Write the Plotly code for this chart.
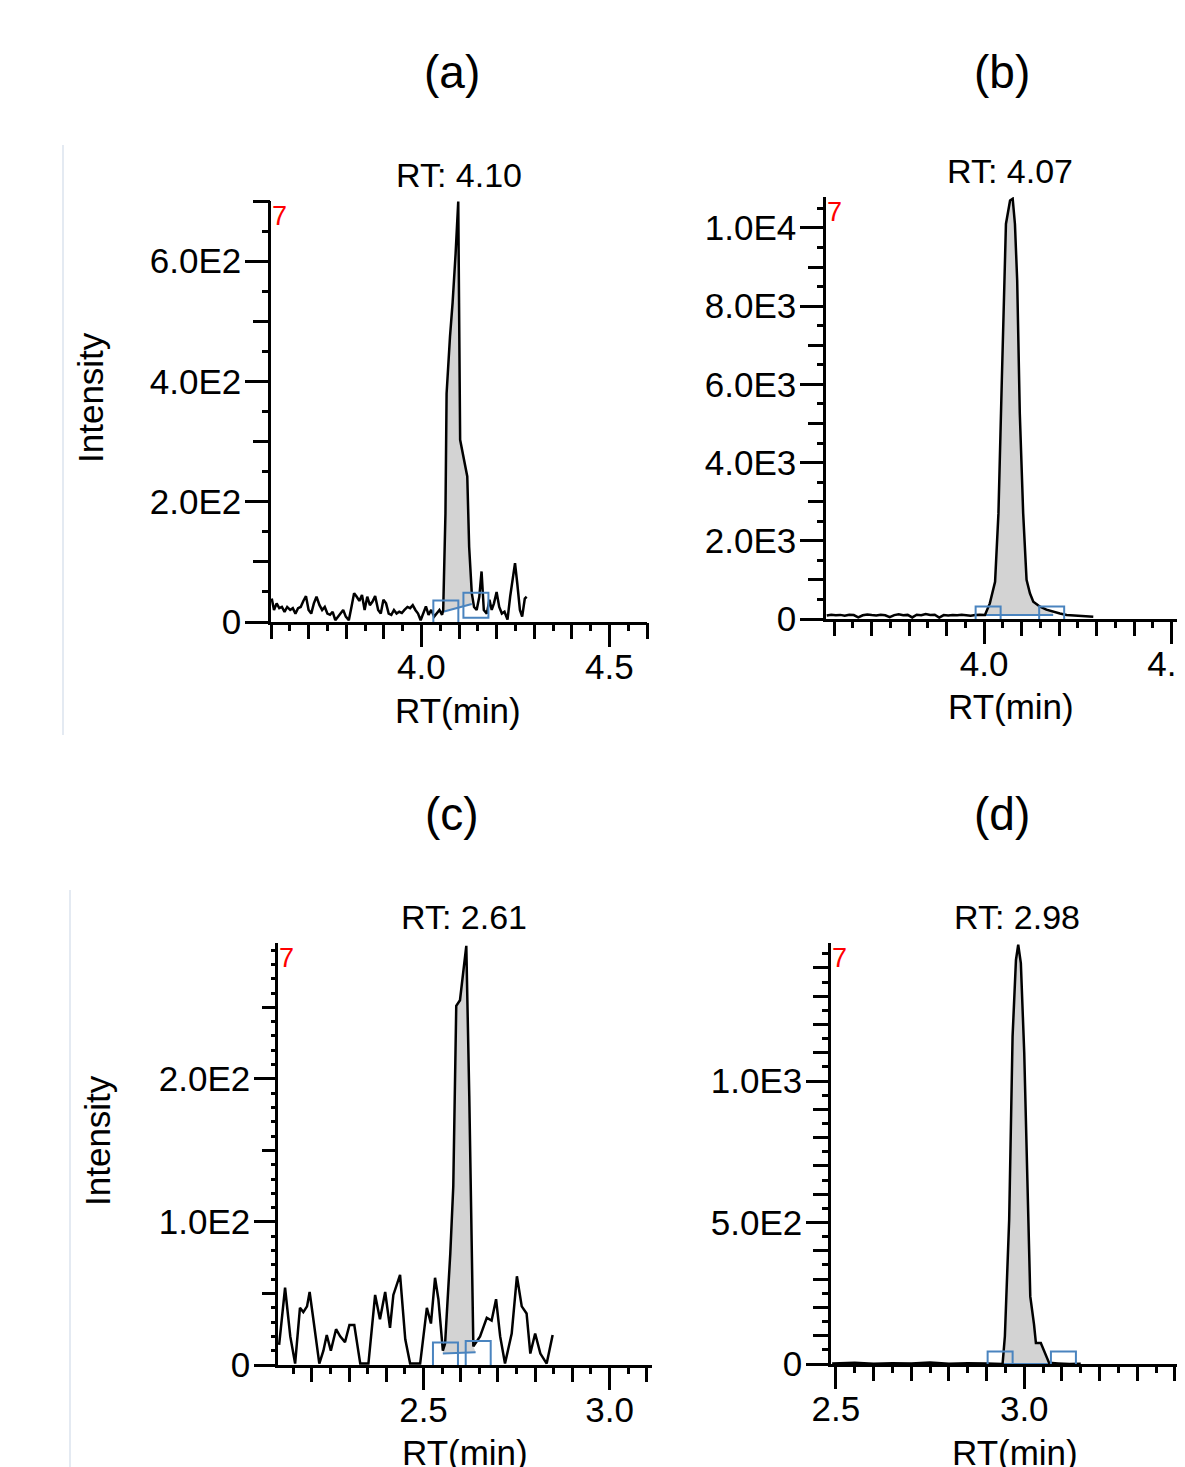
import plotly.graph_objects as go

# ---------------- data ----------------
panel_titles = ["(a)", "(b)", "(c)", "(d)"]
rt_labels = [4.10, 4.07, 2.61, 2.98]
x_title = "RT(min)"
y_title = "Intensity"

# (a)
a_time = [3.602, 3.608, 3.615, 3.622, 3.629, 3.636, 3.643, 3.651, 3.658, 3.665, 3.672, 3.679,
          3.686, 3.693, 3.700, 3.707, 3.714, 3.721, 3.729, 3.736, 3.743, 3.750, 3.757, 3.764,
          3.771, 3.778, 3.785, 3.792, 3.799, 3.807, 3.814, 3.821, 3.828, 3.835, 3.842, 3.849,
          3.856, 3.863, 3.870, 3.877, 3.885, 3.892, 3.899, 3.906, 3.913, 3.920, 3.927, 3.934,
          3.941, 3.948, 3.955, 3.963, 3.970, 3.977, 3.984, 3.991, 3.998, 4.005, 4.012, 4.019,
          4.026, 4.034, 4.041, 4.048, 4.055, 4.058, 4.064, 4.067, 4.076, 4.083, 4.091, 4.098,
          4.103, 4.112, 4.122, 4.127, 4.134, 4.140, 4.147, 4.154, 4.160, 4.166, 4.174, 4.181,
          4.187, 4.193, 4.200, 4.207, 4.214, 4.221, 4.229, 4.236, 4.243, 4.249, 4.255, 4.262,
          4.268, 4.275, 4.280]
a_intensity = [39, 20, 31, 23, 25, 17, 25, 20, 23, 14, 23, 25,
               35, 43, 20, 14, 31, 42, 28, 20, 25, 14, 12, 17,
               3, 9, 14, 20, 9, 3, 25, 48, 42, 35, 45, 20,
               42, 28, 34, 43, 20, 14, 37, 31, 14, 12, 20, 14,
               17, 15, 20, 25, 23, 28, 20, 14, 3, 14, 26, 12,
               20, 9, 14, 20, 12, 20, 181, 380, 474, 531, 613, 699,
               303, 272, 242, 125, 48, 25, 20, 42, 84, 20, 14, 37,
               20, 31, 50, 25, 14, 17, 4, 42, 75, 98, 64, 20,
               9, 39, 42]
a_peak_limits = [4.058, 4.134]
a_baseline = [17, 30]
a_box_time = [4.065, 4.145]
a_box_intensity = [15, 28]
a_xtick_vals = [4.0, 4.5]
a_xtick_text = ["4.0", "4.5"]
a_ytick_vals = [0, 200, 400, 600]
a_ytick_text = ["0", "2.0E2", "4.0E2", "6.0E2"]

# (b)
b_time = [3.580, 3.592, 3.604, 3.616, 3.628, 3.640, 3.652, 3.664, 3.676, 3.688, 3.700, 3.712,
          3.724, 3.736, 3.748, 3.760, 3.772, 3.784, 3.796, 3.808, 3.820, 3.832, 3.844, 3.856,
          3.868, 3.880, 3.892, 3.904, 3.916, 3.928, 3.940, 3.952, 3.964, 3.976, 3.988,
          4.002, 4.015, 4.029, 4.038, 4.047, 4.053, 4.058, 4.069, 4.076, 4.082, 4.088, 4.095,
          4.104, 4.113, 4.122, 4.131, 4.149, 4.166, 4.184, 4.202, 4.220, 4.238, 4.256, 4.274,
          4.291]
b_intensity = [90, 110, 95, 105, 85, 110, 100, 40, 95, 115, 100, 90,
               110, 95, 45, 100, 120, 95, 105, 40, 110, 95, 125, 100,
               110, 35, 100, 90, 105, 95, 110, 100, 85, 100, 110,
               102, 400, 953, 2700, 6100, 8660, 10100, 10700, 10745, 10100, 8660, 5250,
               2700, 1000, 656, 443, 315, 240, 187, 140, 102, 90, 75, 70,
               60]
b_peak_limits = [4.002, 4.184]
b_baseline = [100, 100]
b_box_time = [4.0105, 4.180]
b_box_intensity = [0, 0]
b_xtick_vals = [4.0, 4.5]
b_xtick_text = ["4.0", "4.5"]
b_ytick_vals = [0, 2000, 4000, 6000, 8000, 10000]
b_ytick_text = ["0", "2.0E3", "4.0E3", "6.0E3", "8.0E3", "1.0E4"]

# (c)
c_time = [2.112, 2.128, 2.142, 2.155, 2.168, 2.177, 2.187, 2.194, 2.204, 2.220, 2.231, 2.240,
          2.251, 2.265, 2.276, 2.289, 2.301, 2.314, 2.330, 2.352, 2.370, 2.383, 2.397, 2.410,
          2.419, 2.437, 2.451, 2.464, 2.491, 2.509, 2.520, 2.531, 2.540, 2.552, 2.558, 2.572,
          2.580, 2.588, 2.598, 2.615, 2.623, 2.634, 2.652, 2.670, 2.683, 2.695, 2.706, 2.719,
          2.737, 2.751, 2.764, 2.777, 2.787, 2.800, 2.814, 2.831, 2.847]
c_intensity = [14, 54, 20, 1, 40, 37, 41, 51, 32, 1, 10, 21,
               10, 25, 20, 16, 28, 28, 1, 1, 49, 32, 51, 26,
               49, 63, 18, 1, 1, 40, 29, 61, 46, 10, 15, 78,
               125, 251, 255, 293, 188, 13, 20, 33, 31, 46, 20, 1,
               22, 62, 41, 36, 8, 22, 8, 1, 21]
c_peak_limits = [2.552, 2.640]
c_baseline = [8, 9]
c_box_time = [2.559, 2.647]
c_box_intensity = [7, 8]
c_xtick_vals = [2.5, 3.0]
c_xtick_text = ["2.5", "3.0"]
c_ytick_vals = [0, 100, 200]
c_ytick_text = ["0", "1.0E2", "2.0E2"]

# (d)
d_time = [2.490, 2.550, 2.600, 2.650, 2.700, 2.750, 2.800, 2.850, 2.900, 2.930,
          2.9425, 2.9486, 2.960, 2.969, 2.978, 2.984, 2.991, 3.000, 3.009, 3.016,
          3.026, 3.031, 3.044, 3.066, 3.090, 3.120, 3.150]
d_intensity = [2, 4, 1, 3, 2, 5, 1, 3, 2, 1,
               0, 98, 510, 1157, 1428, 1482, 1417, 1099, 627, 239,
               139, 74, 74, 4, 2, 0, 1]
d_peak_limits = [2.9425, 3.066]
d_baseline = [0, 0]
d_box_time = [2.936, 3.104]
d_box_intensity = [0, 0]
d_xtick_vals = [2.5, 3.0]
d_xtick_text = ["2.5", "3.0"]
d_ytick_vals = [0, 500, 1000]
d_ytick_text = ["0", "5.0E2", "1.0E3"]

# ---------------- layout geometry (pixels of the 1185x1467 page) ----------------
W, H = 1185, 1467
OFF = 8  # the page body margin shifts the figure by 8 px
FONT = "Liberation Sans, Arial, sans-serif"
BLUE = "#4a84bf"

panels = [
    dict(t=a_time, v=a_intensity, lim=a_peak_limits, base=a_baseline, bt=a_box_time, bv=a_box_intensity,
         xv=a_xtick_vals, xt=a_xtick_text, yv=a_ytick_vals, yt=a_ytick_text,
         px=(271, 647), py=(201, 622), xr=[3.6, 4.6], yr=[0, 700],
         ymid=100, ymin=50, ylen=(23, 17, 8), title_xy=(452, 72), xlab=(458, 711), ylab=(90, 398)),
    dict(t=b_time, v=b_intensity, lim=b_peak_limits, base=b_baseline, bt=b_box_time, bv=b_box_intensity,
         xv=b_xtick_vals, xt=b_xtick_text, yv=b_ytick_vals, yt=b_ytick_text,
         px=(826, 1193), py=(197, 619), xr=[3.578, 4.557], yr=[0, 10790],
         ymid=1000, ymin=500, ylen=(23, 17, 8), title_xy=(1002, 72), xlab=(1011, 706), ylab=None),
    dict(t=c_time, v=c_intensity, lim=c_peak_limits, base=c_baseline, bt=c_box_time, bv=c_box_intensity,
         xv=c_xtick_vals, xt=c_xtick_text, yv=c_ytick_vals, yt=c_ytick_text,
         px=(278, 652), py=(943, 1365), xr=[2.109, 3.114], yr=[0, 295],
         ymid=50, ymin=10, ylen=(21, 15, 6), title_xy=(452, 814), xlab=(465, 1452), ylab=(97, 1140)),
    dict(t=d_time, v=d_intensity, lim=d_peak_limits, base=d_baseline, bt=d_box_time, bv=d_box_intensity,
         xv=d_xtick_vals, xt=d_xtick_text, yv=d_ytick_vals, yt=d_ytick_text,
         px=(831, 1193), py=(943, 1364), xr=[2.487, 3.448], yr=[0, 1488],
         ymid=100, ymin=50, ylen=(22, 17, 8), title_xy=(1002, 814), xlab=(1015, 1452), ylab=None),
]


def fx(px):
    return (px - OFF) / W


def fy(py):
    return 1 - (py - OFF) / H


fig = go.Figure()
annotations = []
layout_axes = {}

for i, p in enumerate(panels):
    n = i + 1
    xa = "x" if n == 1 else f"x{n}"
    ya = "y" if n == 1 else f"y{n}"
    xo = f"x{n + 4}"
    yo = f"y{n + 4}"
    xkey = "xaxis" if n == 1 else f"xaxis{n}"
    ykey = "yaxis" if n == 1 else f"yaxis{n}"

    t, v = p["t"], p["v"]
    lo, hi = p["lim"]
    seg_t = [tt for tt in t if lo <= tt <= hi]
    seg_v = [vv for tt, vv in zip(t, v) if lo <= tt <= hi]
    # integrated peak area (gray)
    fig.add_trace(go.Scatter(x=seg_t + [hi, lo], y=seg_v + [p["base"][1], p["base"][0]],
                             fill="toself", fillcolor="#d3d3d3", mode="lines",
                             line=dict(width=0, color="#d3d3d3"), xaxis=xa, yaxis=ya,
                             showlegend=False, hoverinfo="skip"))
    # integration baseline
    fig.add_trace(go.Scatter(x=[lo, hi], y=p["base"], mode="lines", line=dict(color=BLUE, width=2),
                             xaxis=xa, yaxis=ya, showlegend=False, hoverinfo="skip"))
    # chromatogram
    fig.add_trace(go.Scatter(x=t, y=v, mode="lines", line=dict(color="black", width=2.5),
                             xaxis=xa, yaxis=ya, showlegend=False))
    # peak start / end markers
    fig.add_trace(go.Scatter(x=p["bt"], y=p["bv"], mode="markers",
                             marker=dict(symbol="square-open", size=25, color=BLUE,
                                         line=dict(width=2, color=BLUE)),
                             xaxis=xa, yaxis=ya, showlegend=False, hoverinfo="skip"))
    # empty helper traces so the tick-only overlay axes exist
    fig.add_trace(go.Scatter(x=[], y=[], xaxis=xo, yaxis=ya, showlegend=False, hoverinfo="skip"))
    fig.add_trace(go.Scatter(x=[], y=[], xaxis=xa, yaxis=yo, showlegend=False, hoverinfo="skip"))

    tick_font = dict(family=FONT, size=35, color="black")
    common = dict(showgrid=False, zeroline=False, fixedrange=True, automargin=False)
    layout_axes[xkey] = dict(domain=[fx(p["px"][0]), min(1.0, fx(p["px"][1]))], range=p["xr"], anchor=ya,
                             showline=True, linecolor="black", linewidth=2.5,
                             ticks="outside", ticklen=22, tickwidth=2.5, tickcolor="black",
                             tickmode="array", tickvals=p["xv"], ticktext=p["xt"],
                             ticklabelstandoff=-10, ticklabeloverflow="allow",
                             tickfont=tick_font, **common)
    layout_axes[ykey] = dict(domain=[fy(p["py"][1]), fy(p["py"][0])], range=p["yr"], anchor=xa,
                             showline=True, linecolor="black", linewidth=2.5,
                             ticks="outside", ticklen=p["ylen"][0], tickwidth=2.5, tickcolor="black",
                             tickmode="array", tickvals=p["yv"], ticktext=p["yt"],
                             ticklabelstandoff=-3, tickfont=tick_font, **common)
    layout_axes[f"xaxis{n + 4}"] = dict(overlaying=xa, anchor=ya, side="bottom", range=p["xr"],
                                        showline=False, showticklabels=False,
                                        ticks="outside", ticklen=16, tickwidth=2.5, tickcolor="black",
                                        tickmode="linear", tick0=0, dtick=0.1,
                                        minor=dict(ticks="outside", ticklen=8, tickwidth=2.5,
                                                   tickcolor="black", tick0=0, dtick=0.05, showgrid=False),
                                        **common)
    layout_axes[f"yaxis{n + 4}"] = dict(overlaying=ya, anchor=xa, side="left", range=p["yr"],
                                        showline=False, showticklabels=False,
                                        ticks="outside", ticklen=p["ylen"][1], tickwidth=2.5, tickcolor="black",
                                        tickmode="linear", tick0=0, dtick=p["ymid"],
                                        minor=dict(ticks="outside", ticklen=p["ylen"][2], tickwidth=2.5,
                                                   tickcolor="black", tick0=0, dtick=p["ymin"], showgrid=False),
                                        **common)

    # panel title
    annotations.append(dict(text=panel_titles[i], x=fx(p["title_xy"][0]), y=fy(p["title_xy"][1]),
                            xref="paper", yref="paper", xanchor="center", yanchor="middle",
                            showarrow=False, font=dict(family=FONT, size=46, color="black")))
    # RT label above the apex
    annotations.append(dict(text=f"RT: {rt_labels[i]:.2f}", x=rt_labels[i], xref=xa,
                            y=1, yref=f"{ya} domain", xanchor="center", yanchor="middle", yshift=26,
                            showarrow=False, font=dict(family=FONT, size=34, color="black")))
    # red marker at top-left of the plot
    annotations.append(dict(text="7", x=0, xref=f"{xa} domain", y=1, yref=f"{ya} domain",
                            xanchor="left", yanchor="top", yshift=2, xshift=-1, showarrow=False,
                            font=dict(family=FONT, size=27, color="red")))
    # axis titles
    annotations.append(dict(text=x_title, x=fx(p["xlab"][0]), y=fy(p["xlab"][1]), xref="paper", yref="paper",
                            xanchor="center", yanchor="middle", showarrow=False,
                            font=dict(family=FONT, size=35, color="black")))
    if p["ylab"] is not None:
        annotations.append(dict(text=y_title, x=fx(p["ylab"][0]), y=fy(p["ylab"][1]), xref="paper",
                                yref="paper", xanchor="center", yanchor="middle", textangle=-90,
                                showarrow=False, font=dict(family=FONT, size=35, color="black")))

shapes = [
    dict(type="line", xref="paper", yref="paper", x0=fx(63), x1=fx(63), y0=fy(145), y1=fy(735),
         line=dict(color="#e4eaf2", width=2)),
    dict(type="line", xref="paper", yref="paper", x0=fx(70), x1=fx(70), y0=fy(890), y1=fy(1475),
         line=dict(color="#e4eaf2", width=2)),
]

fig.update_layout(template="none", width=W, height=H, margin=dict(l=0, r=0, t=0, b=0, pad=0),
                  paper_bgcolor="white", plot_bgcolor="white", showlegend=False,
                  annotations=annotations, shapes=shapes, **layout_axes)

fig.write_html("out.html")
